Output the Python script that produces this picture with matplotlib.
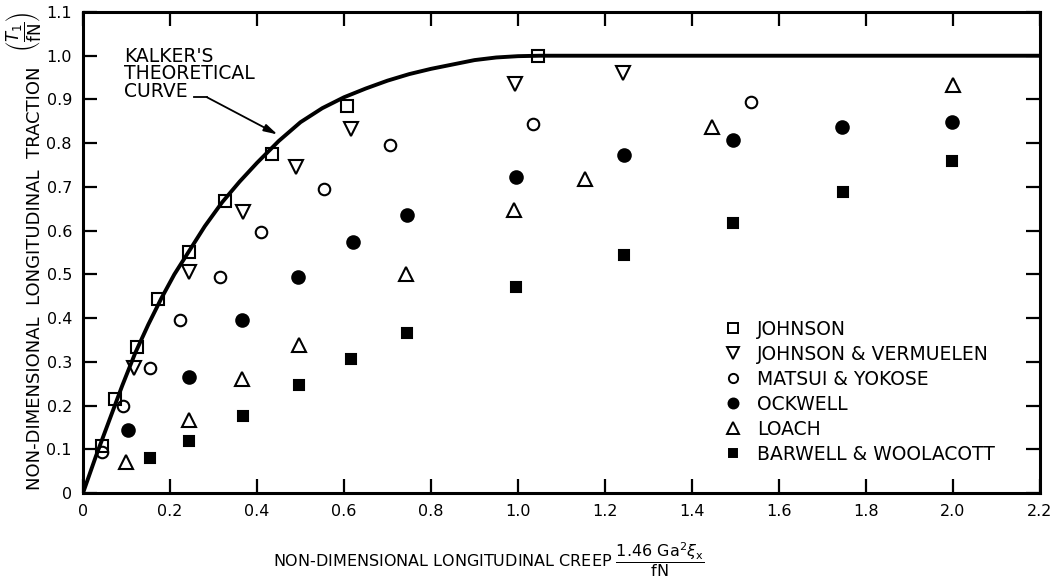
import matplotlib
matplotlib.use("Agg")
import matplotlib.pyplot as plt
from matplotlib.lines import Line2D

plt.rcParams["font.family"] = "DejaVu Sans"
plt.rcParams["mathtext.fontset"] = "dejavusans"

kalker_x = [0, 0.03, 0.06, 0.09, 0.12, 0.15, 0.18, 0.21, 0.245, 0.28, 0.32, 0.36, 0.40,
            0.45, 0.50, 0.55, 0.60, 0.65, 0.70, 0.75, 0.80, 0.85, 0.90, 0.95, 1.0, 1.05, 2.2]
kalker_y = [0, 0.085, 0.165, 0.245, 0.32, 0.385, 0.445, 0.50, 0.555, 0.61, 0.665, 0.712, 0.755,
            0.805, 0.848, 0.88, 0.905, 0.925, 0.943, 0.958, 0.97, 0.98, 0.99, 0.996, 0.999, 1.0, 1.0]

johnson_x = [0.044, 0.074, 0.124, 0.173, 0.244, 0.327, 0.435, 0.607, 1.046]
johnson_y = [0.107, 0.216, 0.334, 0.443, 0.552, 0.668, 0.775, 0.884, 1.0]

jv_x = [0.117, 0.244, 0.367, 0.49, 0.615, 0.993, 1.242]
jv_y = [0.287, 0.505, 0.643, 0.745, 0.833, 0.935, 0.961]

matsui_x = [0.044, 0.091, 0.153, 0.223, 0.315, 0.41, 0.554, 0.706, 1.034, 1.536]
matsui_y = [0.094, 0.198, 0.286, 0.395, 0.495, 0.598, 0.695, 0.796, 0.844, 0.895]

ockwell_x = [0.103, 0.244, 0.366, 0.494, 0.621, 0.745, 0.995, 1.244, 1.494, 1.745, 1.998]
ockwell_y = [0.145, 0.266, 0.395, 0.495, 0.573, 0.635, 0.723, 0.773, 0.808, 0.838, 0.848]

loach_x = [0.099, 0.244, 0.366, 0.497, 0.742, 0.991, 1.154, 1.446, 2.0]
loach_y = [0.070, 0.166, 0.261, 0.338, 0.500, 0.647, 0.717, 0.836, 0.932]

barwell_x = [0.154, 0.244, 0.368, 0.497, 0.616, 0.745, 0.995, 1.244, 1.494, 1.747, 1.998]
barwell_y = [0.079, 0.120, 0.177, 0.248, 0.307, 0.366, 0.470, 0.545, 0.618, 0.689, 0.759]

x_ticks = [0, 0.2, 0.4, 0.6, 0.8, 1.0, 1.2, 1.4, 1.6, 1.8, 2.0, 2.2]
x_labels = ["0", "0.2", "0.4", "0.6", "0.8", "1.0", "1.2", "1.4", "1.6", "1.8", "2.0", "2.2"]
y_ticks = [0, 0.1, 0.2, 0.3, 0.4, 0.5, 0.6, 0.7, 0.8, 0.9, 1.0, 1.1]
y_labels = ["0", "0.1", "0.2", "0.3", "0.4", "0.5", "0.6", "0.7", "0.8", "0.9", "1.0", "1.1"]

series = [
    ("JOHNSON", johnson_x, johnson_y, "s", "none", 8.3),
    ("JOHNSON & VERMUELEN", jv_x, jv_y, "v", "none", 10),
    ("MATSUI & YOKOSE", matsui_x, matsui_y, "o", "none", 8.3),
    ("OCKWELL", ockwell_x, ockwell_y, "o", "black", 9),
    ("LOACH", loach_x, loach_y, "^", "none", 10),
    ("BARWELL & WOOLACOTT", barwell_x, barwell_y, "s", "black", 7.5),
]

W, H = 1052, 582
fig = plt.figure(figsize=(W / 100, H / 100), dpi=100)
ax = fig.add_axes([83 / W, 1 - 493 / H, (1040 - 83) / W, (493 - 12) / H])

ax.plot(kalker_x, kalker_y, color="black", lw=2.8, solid_joinstyle="round", zorder=2)

handles = []
for name, xs, ys, m, fc, ms in series:
    ax.plot(xs, ys, linestyle="none", marker=m, markersize=ms, markerfacecolor=fc,
            markeredgecolor="black", markeredgewidth=1.5, zorder=3)
    handles.append(Line2D([], [], linestyle="none", marker=m, markersize=ms * 0.8,
                          markerfacecolor=fc, markeredgecolor="black",
                          markeredgewidth=1.4, label=name))

ax.set_xlim(0, 2.2)
ax.set_ylim(0, 1.1)
ax.set_xticks(x_ticks)
ax.set_xticklabels(x_labels)
ax.set_yticks(y_ticks)
ax.set_yticklabels(y_labels)
ax.tick_params(direction="in", length=10, width=1.6, labelsize=11.5, pad=8,
               top=True, right=True)
for sp in ax.spines.values():
    sp.set_linewidth(2.2)

# label with arrow pointing at the curve
ax.text(0.094, 1.02, "KALKER'S\nTHEORETICAL\nCURVE", fontsize=13.5, va="top", ha="left",
        linespacing=0.9)
ax.plot([0.255, 0.285], [0.905, 0.905], color="black", lw=1.3)
ax.annotate("", xy=(0.447, 0.82), xytext=(0.285, 0.905),
            arrowprops=dict(arrowstyle="-|>,head_length=0.8,head_width=0.22",
                            color="black", lw=1.3, shrinkA=0, shrinkB=0))

ax.legend(handles=handles, loc="upper left", bbox_to_anchor=(0.66, 0.38),
          frameon=False, fontsize=13.5, handlelength=1.0, handletextpad=0.75,
          labelspacing=0.32, borderpad=0)

# axis titles
fig.text(35 / W, 1 - 490 / H, "NON-DIMENSIONAL  LONGITUDINAL  TRACTION",
         fontsize=13, rotation=90, ha="center", va="bottom")
fig.text(24 / W, 1 - 32 / H, r"$\left(\dfrac{T_1}{\mathrm{fN}}\right)$",
         fontsize=12, rotation=90, ha="center", va="center")
fig.text(273 / W, 1 - 567 / H,
         r"NON-DIMENSIONAL LONGITUDINAL CREEP $\dfrac{1.46\ \mathrm{Ga}^2\xi_\mathrm{x}}{\mathrm{fN}}$",
         fontsize=11.5, ha="left", va="baseline")

fig.savefig("out.png", dpi=100)
